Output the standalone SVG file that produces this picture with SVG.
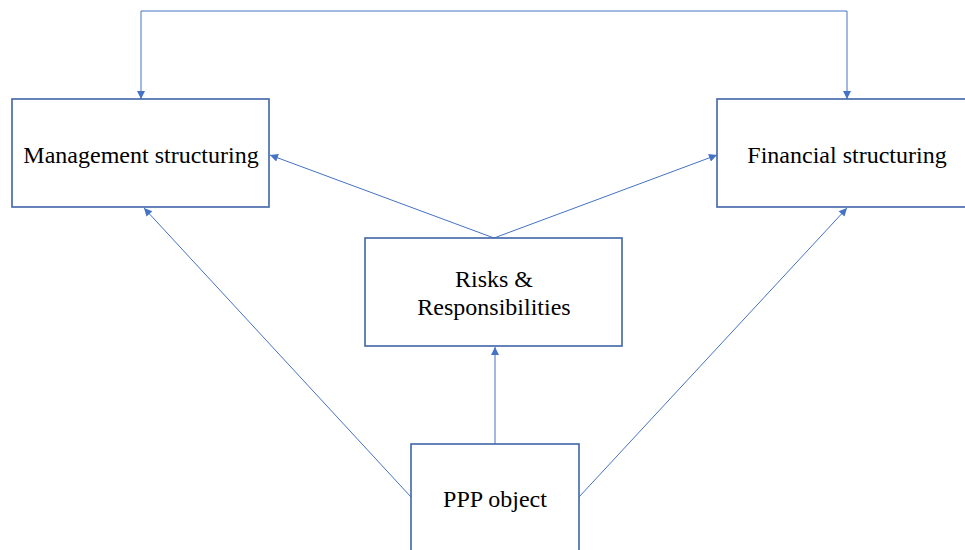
<svg xmlns="http://www.w3.org/2000/svg" width="965" height="550" viewBox="0 0 965 550">
<style>
.box{fill:#fff;stroke:#3F65A8;stroke-width:1.6}
.lbl{font-family:"Liberation Serif","Times New Roman","DejaVu Serif",serif;font-size:24px;fill:#000;text-anchor:middle}
.ln{fill:none;stroke:#4472C4;stroke-width:1;marker-end:url(#ah)}
</style>
<defs>
<marker id="ah" viewBox="0 0 10 10" refX="10" refY="5" markerWidth="10" markerHeight="8" markerUnits="userSpaceOnUse" orient="auto">
<path d="M0,0 L10,5 L0,10 Z" fill="#4472C4"/>
</marker>
<marker id="ahs" viewBox="0 0 10 10" refX="10" refY="5" markerWidth="10" markerHeight="8" markerUnits="userSpaceOnUse" orient="auto-start-reverse">
<path d="M0,0 L10,5 L0,10 Z" fill="#4472C4"/>
</marker>
</defs>
<rect width="965" height="550" fill="#fff"/>
<g id="connectors">
<path class="ln" d="M141,99 V11 H847 V99" marker-start="url(#ahs)"/>
<path class="ln" d="M494,238 L270,155"/>
<path class="ln" d="M494,238 L717,155"/>
<path class="ln" d="M411,497 L144,208"/>
<path class="ln" d="M579,497 L847,208"/>
<path class="ln" d="M495,444 L495,347"/>
</g>
<g id="management">
<rect class="box" x="12" y="99" width="257" height="108"/>
<text class="lbl" x="141" y="163">Management structuring</text>
</g>
<g id="financial">
<rect class="box" x="717" y="99" width="260" height="108"/>
<text class="lbl" x="847" y="163">Financial structuring</text>
</g>
<g id="risks">
<rect class="box" x="365" y="238" width="257" height="108"/>
<text class="lbl" x="494" y="287">Risks &amp;</text>
<text class="lbl" x="494" y="315">Responsibilities</text>
</g>
<g id="ppp">
<rect class="box" x="411" y="444" width="168" height="120"/>
<text class="lbl" x="495" y="507">PPP object</text>
</g>
</svg>
